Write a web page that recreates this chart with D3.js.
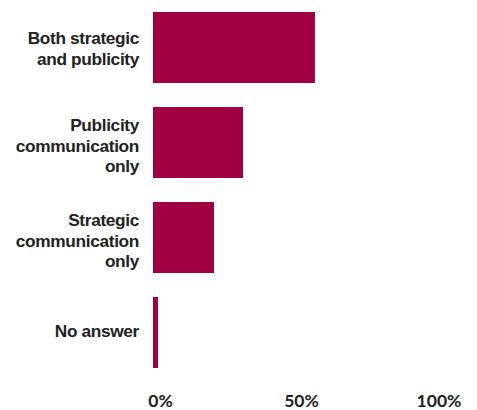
<!DOCTYPE html>
<html>
<head>
<meta charset="utf-8">
<script src="https://cdn.jsdelivr.net/npm/d3@7"></script>
<style>
  html, body { margin: 0; padding: 0; background: #fff; }
  svg { display: block; }
</style>
</head>
<body>
<svg id="chart" width="477" height="410"></svg>
<script>
// Share of respondents by type of communication
const categories = [
  ["Both strategic", "and publicity"],
  ["Publicity", "communication", "only"],
  ["Strategic", "communication", "only"],
  ["No answer"]
];
const shares = [54.7, 30.4, 20.6, 1.7];
const tickValues = [0, 50, 100];
const tickLabels = ["0%", "50%", "100%"];

const svg = d3.select("#chart");
const barColor = "#A00042";
const textColor = "#222222";

const x = d3.scaleLinear().domain([0, 100]).range([153, 449]);
const y = d3.scaleBand()
  .domain(d3.range(categories.length))
  .range([12, 368])
  .paddingInner(24 / 95)
  .paddingOuter(0);

// bars
svg.append("g")
  .selectAll("rect")
  .data(shares)
  .join("rect")
  .attr("x", x(0))
  .attr("y", (d, i) => y(i))
  .attr("width", d => x(d) - x(0))
  .attr("height", y.bandwidth())
  .attr("fill", barColor);

// category labels, right-aligned, multi-line
const lineH = 20.8;
const labels = svg.append("g")
  .attr("font-family", "'Liberation Sans', Arial, sans-serif")
  .attr("font-weight", "bold")
  .attr("font-size", 17.3)
  .attr("letter-spacing", -0.35)
  .attr("fill", textColor)
  .attr("text-anchor", "end");

categories.forEach((lines, i) => {
  const cy = y(i) + y.bandwidth() / 2;
  const mid = cy + 4.7 + (lines.length - 1) * 2.2;
  const first = mid - (lines.length - 1) / 2 * lineH;
  const t = labels.append("text");
  lines.forEach((ln, k) => {
    t.append("tspan").attr("x", 139).attr("y", first + k * lineH).text(ln);
  });
});

// percentage axis
const nudge = [7, 0, -10.5];
const axis = d3.axisBottom(x)
  .tickValues(tickValues)
  .tickFormat((d, i) => tickLabels[i])
  .tickSize(0)
  .tickPadding(0);

const ax = svg.append("g")
  .attr("transform", "translate(0,395)")
  .call(axis);
ax.select(".domain").remove();
ax.selectAll("text")
  .attr("font-family", "Lato, 'Open Sans', sans-serif")
  .attr("font-weight", "bold")
  .attr("font-size", 17.5)
  .attr("fill", textColor)
  .attr("dx", (d, i) => nudge[i]);
</script>
</body>
</html>
